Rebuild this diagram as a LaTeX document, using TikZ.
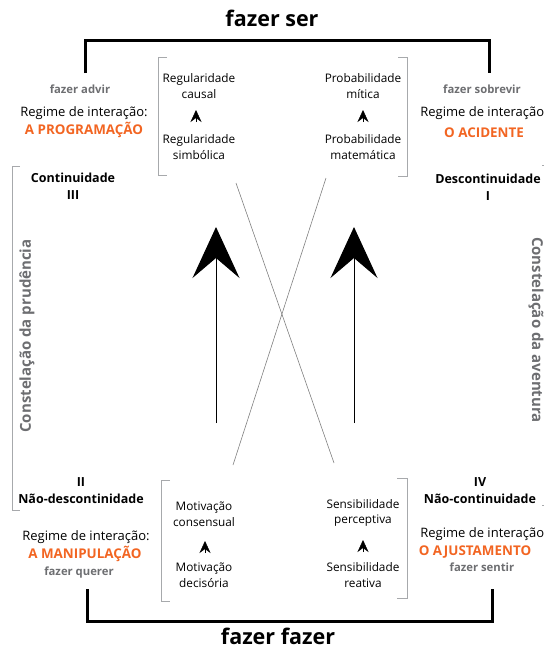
\documentclass[tikz,border=0pt]{standalone}
\usepackage{fontspec}
\setmainfont{Open Sans}
\usetikzlibrary{arrows.meta}
\definecolor{laranja}{HTML}{F26522}
\definecolor{cinza}{HTML}{6D6E71}
\definecolor{colchete}{HTML}{A7A9AC}
\begin{document}
\begin{tikzpicture}[x=1pt, y=-1pt, inner sep=0pt,
	titulo/.style={font=\fontsize{21.5}{24}\selectfont\bfseries},
	verbo/.style={font=\fontsize{11.3}{12}\selectfont\bfseries, text=cinza},
	regime/.style={font=\fontsize{13}{15}\selectfont},
	nome/.style={font=\fontsize{13.4}{15}\selectfont\bfseries, text=laranja},
	canto/.style={font=\fontsize{12.5}{17}\selectfont\bfseries, align=center},
	termo/.style={font=\fontsize{11.8}{15.5}\selectfont, align=center},
	constel/.style={font=\fontsize{15}{16}\selectfont\bfseries, text=cinza},
	moldura/.style={line width=3pt},
	colchete/.style={draw=colchete, line width=0.8pt},
	cruz/.style={draw=gray, line width=0.6pt},
	seta/.style={line width=1pt, -{Stealth[length=51pt, width=47pt, inset=20pt]}},
	ponta/.style={-{Stealth[length=12pt, width=11pt, inset=4pt]}}]
		\useasboundingbox (0,0) rectangle (544,649);

		\draw
		(272,18) node [titulo] (ser) {fazer ser}
		(278,636) node [titulo] (fazer) {fazer fazer};

		\draw
		(80,89) node [verbo] (advir) {fazer advir}
		(84,113) node [regime] (regA) {Regime de interação:}
		(84,130) node [nome] (prog) {A PROGRAMAÇÃO}
		(73,186) node [canto] (cont) {Continuidade\\III};

		\draw
		(482,89) node [verbo] (sobrevir) {fazer sobrevir}
		(484,113) node [regime] (regB) {Regime de interação:}
		(484,133) node [nome] (acid) {O ACIDENTE}
		(488,187) node [canto] (desc) {Descontinuidade\\I};

		\draw
		(81,491) node [canto] (naodesc) {II\\Não-descontinidade}
		(86,537) node [regime] (regC) {Regime de interação:}
		(85,554) node [nome] (manip) {A MANIPULAÇÃO}
		(79,573) node [verbo] (querer) {fazer querer};

		\draw
		(480,491) node [canto] (naocont) {IV\\Não-continuidade}
		(484,534) node [regime] (regD) {Regime de interação:}
		(475,552) node [nome] (ajust) {O AJUSTAMENTO}
		(482,567) node [verbo] (sentir) {fazer sentir};

		\draw
		(199,86) node [termo] (causal) {Regularidade\\causal}
		(199,147) node [termo] (simb) {Regularidade\\simbólica}
		(363,86) node [termo] (mitica) {Probabilidade\\mítica}
		(363,147) node [termo] (matem) {Probabilidade\\matemática}
		(204,514) node [termo] (consens) {Motivação\\consensual}
		(204,575) node [termo] (decis) {Motivação\\decisória}
		(363,513) node [termo] (percep) {Sensibilidade\\perceptiva}
		(363,575) node [termo] (reat) {Sensibilidade\\reativa};

		\draw
		(27,336) node [constel, rotate=90] (prud) {Constelação da prudência}
		(536,330) node [constel, rotate=-90] (avent) {Constelação da aventura};

		\coordinate (fsA) at (85,73);
		\coordinate (fsB) at (489,73);
		\coordinate (ffA) at (87,589);
		\coordinate (ffB) at (492,589);
		\draw[moldura] (fsA) |- (272,40) -| (fsB);
		\draw[moldura] (ffA) |- (272,621) -| (ffB);

		\draw[colchete] (167,57) -| (158,175) -- (167,175);
		\draw[colchete] (398,57) -| (407,176) -- (398,176);
		\draw[colchete] (170,480) -| (161,601) -- (170,601);
		\draw[colchete] (397,478) -| (407,598) -- (397,598);
		\draw[colchete] (20,166) -| (12,510) -- (20,510);
		\draw[colchete] (542,165) -| (550,505) -- (542,505);

		\draw[cruz] (236,183) -- (334,463);
		\draw[cruz] (326,178) -- (233,465);

		\coordinate (baseP) at (216,423);
		\coordinate (topoP) at (216,227);
		\coordinate (baseA) at (354,423);
		\coordinate (topoA) at (354,227);
		\draw[seta] (baseP) -- (topoP);
		\draw[seta] (baseA) -- (topoA);

		\draw[ponta] (196,122) -- (196,110);
		\draw[ponta] (363,122) -- (363,110);
		\draw[ponta] (205,553) -- (205,541);
		\draw[ponta] (363,552) -- (363,540);
	\end{tikzpicture}
\end{document}
